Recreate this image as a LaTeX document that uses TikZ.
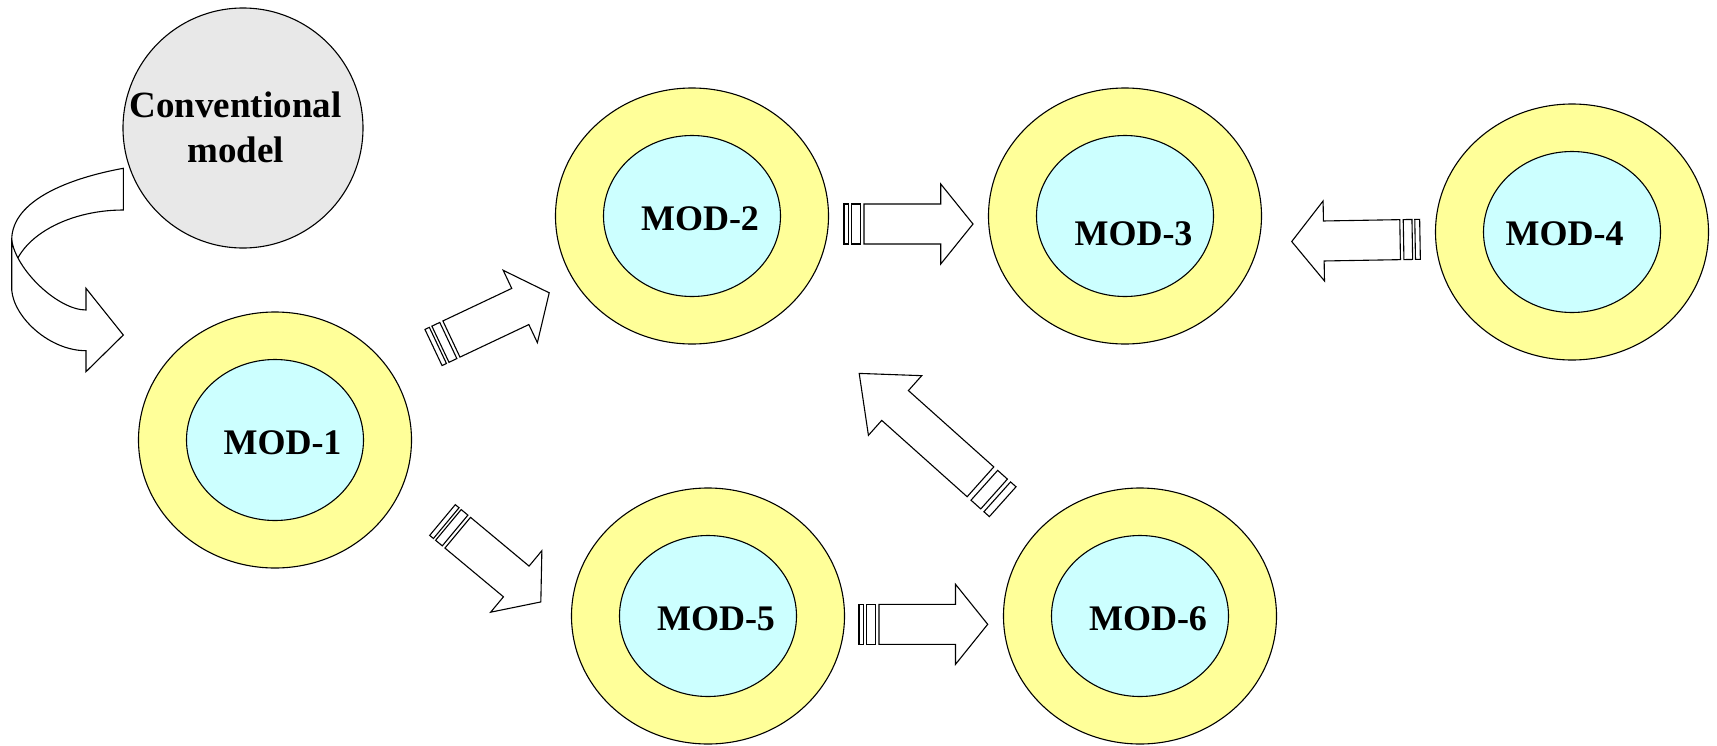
\documentclass[tikz,border=0pt]{standalone}
\usepackage{fontspec}
\setmainfont{Liberation Serif}
\usetikzlibrary{shapes.geometric}
\definecolor{ringyellow}{HTML}{FFFF99}
\definecolor{corecyan}{HTML}{CCFFFF}
\definecolor{convgrey}{HTML}{E8E8E8}
\begin{document}
\begin{tikzpicture}[x=1pt,y=-1pt,
  outerring/.style={ellipse,draw,line width=1.1pt,fill=ringyellow,minimum width=273pt,minimum height=256pt,inner sep=0pt},
  innercore/.style={ellipse,draw,line width=1.1pt,fill=corecyan,minimum width=177pt,minimum height=161pt,inner sep=0pt},
  modlabel/.style={anchor=base,inner sep=0pt,font=\fontsize{36}{43}\selectfont\bfseries},
  convlabel/.style={anchor=base,inner sep=0pt,font=\fontsize{37}{44}\selectfont\bfseries},
  arrowline/.style={draw,line width=1.1pt,fill=white,line join=miter},
  pics/sarrow/.style={code={
    \def\sarrowlen{#1}
    \path[arrowline] (0,-20) rectangle ({0.038*\sarrowlen},20);
    \path[arrowline] ({0.06*\sarrowlen},-20) rectangle ({0.128*\sarrowlen},20);
    \path[arrowline] ({0.155*\sarrowlen},-20) -- ({0.75*\sarrowlen},-20) -- ({0.75*\sarrowlen},-40)
       -- (\sarrowlen,0) -- ({0.75*\sarrowlen},40) -- ({0.75*\sarrowlen},20) -- ({0.155*\sarrowlen},20) -- cycle;
  }}
]
\useasboundingbox (0,0) rectangle (1717,745);

% conventional model
\node[circle,draw,line width=1.1pt,fill=convgrey,minimum size=240pt,inner sep=0pt] (conv) at (243,128) {};
\node[convlabel] (convt1) at (235.5,117.3) {Conventional};
\node[convlabel] (convt2) at (235.5,162.7) {model};

% curved arrow from conventional model to MOD-1
\path[arrowline] (123.3,168.3) .. controls (70,178) and (11.7,200) .. (11.7,240)
   -- (11.7,280) .. controls (13,240) and (65,210) .. (123.3,210) -- cycle;
\path[arrowline] (11.7,240) .. controls (16,270) and (58,310) .. (86,310)
   -- (86,288.3) -- (123.3,335) -- (86,371.7) -- (86,350.7)
   .. controls (50,350.7) and (14,318) .. (11.7,290) -- cycle;

% modules
\foreach \n/\cx/\cy in {1/275/440, 2/692/216, 3/1125/216, 4/1572/232, 5/708/616, 6/1140/616}{
  \node[outerring] (mod\n ring) at (\cx,\cy) {};
  \node[innercore] (mod\n) at (\cx,\cy) {};
}
\node[modlabel] (mod1t) at (282.5,454) {MOD-1};
\node[modlabel] (mod2t) at (700,230) {MOD-2};
\node[modlabel] (mod3t) at (1133.5,245) {MOD-3};
\node[modlabel] (mod4t) at (1564.5,245.7) {MOD-4};
\node[modlabel] (mod5t) at (716,630) {MOD-5};
\node[modlabel] (mod6t) at (1148,630) {MOD-6};

% striped block arrows
\coordinate (a12) at (433.5,347.5);
\coordinate (a15) at (442.5,520);
\coordinate (a23) at (844,224);
\coordinate (a56) at (859,624.3);
\coordinate (a63) at (1002.7,501.7);
\coordinate (a43) at (1420,239.3);
\pic[rotate=25.3] at (a12) {sarrow=128};
\pic[rotate=-39.8] at (a15) {sarrow=128};
\pic at (a23) {sarrow=129};
\pic at (a56) {sarrow=128.7};
\pic[rotate=138.2] at (a63) {sarrow=192.5};
\pic[rotate=181] at (a43) {sarrow=128.3};
\end{tikzpicture}
\end{document}
